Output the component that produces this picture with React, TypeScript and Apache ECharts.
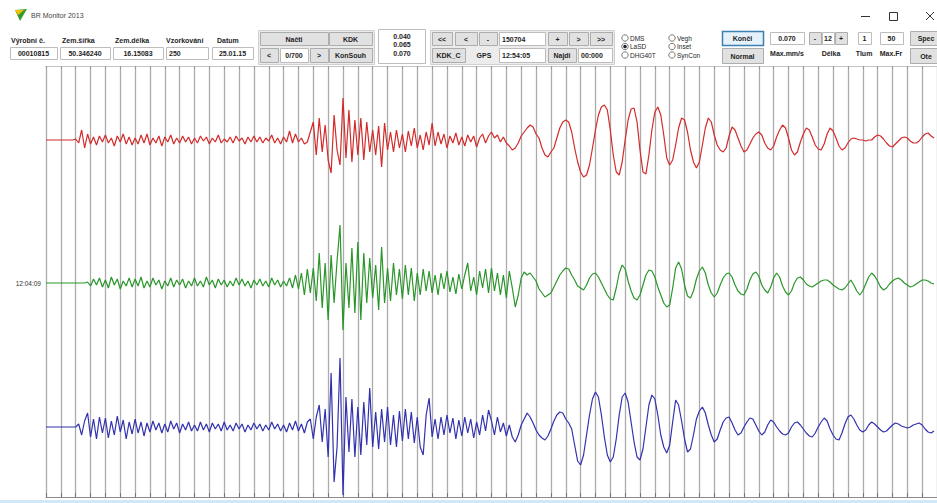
import React, { useEffect, useRef } from 'react';
import * as echarts from 'echarts';

// ---- data ----
const SAMPLE_STEP_S = 2; // seconds between samples
const X_MIN_S = 0;
const X_MAX_S = 600;
const GRID_STEP_S = 10;
const TIME_LABEL = '12:04:09';

const RED_TRACE = [
  0, 0, 0, 0, 0, 0, 0, 0, 0, 0,
  1, -3, 10, -8, 6, -4, 3, -5, 4, -2,
  5, -3, 2, -6, 4, -2, 6, -4, 3, -5,
  2, -4, 5, -3, 6, -5, 2, -3, 4, -6,
  3, -2, 5, -4, 2, -3, 4, -2, 3, -4,
  2, -3, 4, -1, 3, -4, 2, -2, 5, -3,
  1, -2, 3, -3, 4, -1, 2, -4, 3, -2,
  4, -2, 3, -3, 2, -1, 5, -3, 2, -4,
  3, -2, 9, -3, 6, -2, 2, -4, -2, 8,
  18, -15, 22, -12, 15, -20, -33, 25, -10, -25,
  42, -18, 30, -22, 20, -15, 22, -20, 18, -12,
  10, -15, 14, -27, 17, -10, 8, -12, 10, -8,
  6, -12, 9, -6, 12, -8, 5, -10, 8, -5,
  17, -6, 8, -4, 6, -8, 4, -3, 7, -5,
  3, -6, 5, -2, 4, -7, 2, 6, -3, 4,
  8, 2, 5, -2, 3, -3, -6, -10, -8, -3,
  4, 8, 12, 15, 13, 6, 2, -8, -15, -17,
  -12, -8, 2, 12, 18, 20, 18, 8, -8, -22,
  -32, -37, -35, -25, -8, 10, 25, 33, 35, 30,
  10, -15, -32, -35, -22, 0, 20, 31, 32, 18,
  -10, -32, -34, -15, 10, 28, 33, 25, 5, -18,
  -25, -20, -5, 12, 22, 20, 8, -10, -22, -28,
  -22, -5, 12, 22, 18, 5, -5, -10, -12, -8,
  4, 13, 10, 2, -6, -12, -10, -4, 2, 6,
  8, 5, -3, -8, -10, -6, 3, 10, 15, 12,
  2, -10, -15, -12, -2, 6, 12, 10, 3, -5,
  -9, -10, -4, 6, 12, 9, 2, -6, -10, -8,
  -3, 1, 2, 1, 0, 0, -1, 0, 0, 3,
  5, 4, 1, -3, -6, -7, -4, -1, 2, 3,
  2, -1, -3, -3, -1, 3, 6, 7, 4, 2,
];

const GREEN_TRACE = [
  0, 0, 0, 0, 0, 0, 0, 0, 0, 0,
  0, 0, 0, 0, 1, -3, 4, -2, 5, -4,
  3, -5, 6, -2, 4, -6, 2, -3, 5, -4,
  4, -3, 6, -5, 2, -4, 5, -2, 3, -6,
  2, -3, 5, -4, 3, -2, 4, -5, 2, -3,
  5, -3, 2, -4, 6, -2, 3, -5, 4, -2,
  3, -4, 2, -3, 5, -2, 4, -3, 2, -5,
  3, -2, 4, -3, 2, -4, 5, -2, 3, -4,
  2, -3, 5, -5, 8, -6, 10, -12, 14, -10,
  15, -18, 30, -25, 20, -37, 28, -20, 22, 58,
  -47, 20, -25, 35, -30, 41, -37, 30, -20, 25,
  -15, 18, -27, 36, -20, 15, -18, 20, -12, 14,
  -16, 18, -12, 15, -18, 10, -12, 14, -8, 12,
  -10, 8, -12, 10, -6, 12, -9, 6, -11, 9,
  -6, 8, 20, -8, 6, -12, 12, -5, 14, -10,
  15, -8, 10, -12, 8, -15, 12, -5, -24, -12,
  5, 11, 8, 10, 6, 2, -6, -10, -14, -12,
  -10, -4, 2, 8, 12, 15, 14, 8, 3, -3,
  -5, -7, -2, 5, 9, 10, 6, 0, -6, -12,
  -16, -17, -5, 10, 18, 14, 2, -8, -15, -17,
  -12, -2, 8, 13, 12, 6, -4, -12, -20, -24,
  -22, -5, 15, 21, 14, -2, -13, -15, -8, 4,
  12, 16, 10, -2, -10, -14, -10, -2, 5, 9,
  10, 6, -2, -8, -11, -12, -6, 3, 9, 11,
  7, -2, -7, -10, -4, 5, 10, 6, -3, -9,
  -12, -8, 0, 5, 6, 3, -1, -3, -4, -2,
  0, 2, 3, 3, 1, -2, -4, -6, -7, -5,
  -1, 3, -2, -8, -12, -8, -1, 6, 10, 7,
  2, -4, -7, -5, -1, 2, 4, 5, 3, 0,
  -2, -4, -3, -1, 1, 3, 3, 2, 0, -1,
];

const BLUE_TRACE = [
  0, 0, 0, 0, 0, 0, 0, 0, 0, 0,
  0, 3, -8, 6, 14, -10, 8, -12, 10, -6,
  9, -11, 6, -8, 11, -5, 7, -12, 5, -7,
  8, -6, 5, -9, 4, -5, 6, -3, 4, -6,
  3, -5, 6, -2, 4, -6, 3, -3, 5, -4,
  2, -4, 5, -3, 3, -5, 4, -2, 3, -4,
  5, -3, 2, -4, 4, -2, 3, -5, 2, -3,
  4, -2, 3, -4, 2, -3, 5, -2, 3, -4,
  2, -5, 4, -3, 6, -4, 3, -6, 5, 8,
  -12, 10, 22, -15, 18, -30, 54, -55, -20, 69,
  -68, 30, -25, 28, -30, 20, -28, 25, -18, 39,
  -20, 15, -22, 18, -15, 20, -18, 12, -20, 16,
  -14, 18, -12, 15, -16, 10, -20, -28, 12, 29,
  -10, 8, -12, 10, -8, 12, -6, 9, -12, 7,
  -9, 10, -6, 8, -11, 5, -8, 12, -4, 17,
  6, -8, 10, -5, 4, -9, 2, -10, -15, -8,
  2, 8, 14, 10, 4, -3, -8, -11, -13, -9,
  -2, 6, 12, 15, 14, 8, 4, -2, -18, -34,
  -38, -28, -8, 12, 28, 35, 30, 12, -10, -28,
  -35, -30, -12, 12, 30, 34, 25, 5, -15, -30,
  -33, -22, 0, 22, 32, 28, 12, -8, -20, -26,
  -18, 5, 27, 22, 6, -12, -25, -22, -8, 8,
  16, 20, 14, 2, -8, -15, -12, -3, 5, 9,
  10, 4, -3, -8, -6, 0, 5, 9, 8, 2,
  -4, -8, -5, 2, 7, 5, 0, -4, -7, -8,
  -6, 0, 4, 5, 2, -2, -6, -9, -10, -6,
  0, 5, 9, 6, -2, -8, -12, -13, -6, 3,
  10, 12, 8, 2, -3, -5, -3, 2, 5, 3,
  0, -3, -5, -4, -1, 2, 4, 3, 1, 0,
  -1, 0, 2, 3, 4, 2, -2, -5, -6, -4,
];

// ---- toolbar helpers (layout only) ----
const FONT = '"Liberation Sans", Arial, sans-serif';

function txt(x: number, y: number, text: string, o: any = {}) {
  return {
    type: 'text', x, y, silent: true, z: 10,
    style: {
      text, fontSize: o.size ?? 7, fontWeight: o.bold === false ? 'normal' : 'bold',
      fontFamily: FONT, fill: o.color ?? '#1e1e1e',
      align: o.align ?? 'left', verticalAlign: 'middle',
    },
  };
}
function rect(x: number, y: number, w: number, h: number, fill: string, stroke: string, lw = 1) {
  return {
    type: 'rect', silent: true, z: 9,
    shape: { x: x + 0.5, y: y + 0.5, width: w, height: h },
    style: { fill, stroke, lineWidth: lw },
  };
}
function btn(x: number, y: number, w: number, h: number, label: string, o: any = {}) {
  return [
    rect(x, y, w, h, o.fill ?? '#e1e1e1', o.stroke ?? '#adadad', o.lw ?? 1),
    txt(x + w / 2, y + h / 2 + 0.5, label, { align: 'center' }),
  ];
}
function field(x: number, y: number, w: number, h: number, val: string, align = 'center') {
  return [
    rect(x, y, w, h, '#ffffff', '#bcbcbc'),
    txt(align === 'center' ? x + w / 2 : x + 3, y + h / 2 + 0.5, val, { align }),
  ];
}
function line(x1: number, y1: number, x2: number, y2: number, color = '#333', lw = 1) {
  return { type: 'line', silent: true, z: 10, shape: { x1, y1, x2, y2 }, style: { stroke: color, lineWidth: lw } };
}
function radio(x: number, y: number, checked: boolean) {
  const els: any[] = [
    { type: 'circle', silent: true, z: 10, shape: { cx: x, cy: y, r: 3.2 }, style: { fill: '#fff', stroke: '#555', lineWidth: 0.8 } },
  ];
  if (checked) els.push({ type: 'circle', silent: true, z: 11, shape: { cx: x, cy: y, r: 1.8 }, style: { fill: '#222' } });
  return els;
}

function buildGraphic() {
  const g: any[] = [];
  // title bar
  g.push({ type: 'polygon', silent: true, z: 10, shape: { points: [[15, 10], [27, 9], [20, 21]] }, style: { fill: '#3a9a2a' } });
  g.push({ type: 'polygon', silent: true, z: 11, shape: { points: [[15, 10], [24, 10], [18, 15]] }, style: { fill: '#f2c200' } });
  g.push(txt(31, 15, 'BR Monitor 2013', { bold: false, size: 7, color: '#444' }));
  g.push(line(861, 16.5, 870, 16.5, '#333'));
  g.push({ type: 'rect', silent: true, z: 10, shape: { x: 889.5, y: 12.5, width: 8, height: 8 }, style: { fill: 'none', stroke: '#333', lineWidth: 1 } });
  g.push(line(926, 12, 934, 20, '#333'));
  g.push(line(934, 12, 926, 20, '#333'));

  // header fields
  const labels: [number, string][] = [[11, 'Výrobní č.'], [62, 'Zem.šířka'], [115, 'Zem.délka'], [166, 'Vzorkování'], [217, 'Datum']];
  labels.forEach(([x, s]) => g.push(txt(x, 40, s)));
  g.push(...field(10, 47, 47, 12, '00010815'));
  g.push(...field(60, 47, 50, 12, '50.346240'));
  g.push(...field(113, 47, 50, 12, '16.15083'));
  g.push(...field(166, 47, 42, 12, '250', 'left'));
  g.push(...field(212, 47, 41, 12, '25.01.15'));

  // Načti / KDK block
  g.push(rect(258, 30, 116, 34, '#ececec', '#d0d0d0'));
  g.push(...btn(260, 32, 68, 13, 'Načti'));
  g.push(...btn(260, 48, 18, 14, '<'));
  g.push(...field(280, 48, 28, 14, '0/700'));
  g.push(...btn(310, 48, 18, 14, '>'));
  g.push(...btn(329, 32, 43, 13, 'KDK'));
  g.push(...btn(329, 48, 43, 14, 'KonSouh'));

  // three value box
  g.push(rect(378, 29, 47, 34, '#ffffff', '#bcbcbc'));
  g.push(txt(402, 36, '0.040', { align: 'center' }));
  g.push(txt(402, 44, '0.065', { align: 'center' }));
  g.push(txt(402, 53, '0.070', { align: 'center' }));

  // navigation
  g.push(rect(430, 30, 184, 34, '#ececec', '#d0d0d0'));
  g.push(...btn(432, 32, 20, 13, '<<'));
  g.push(...btn(455, 32, 22, 13, '<'));
  g.push(...btn(479, 32, 18, 13, '-'));
  g.push(...field(499, 32, 46, 13, '150704', 'left'));
  g.push(...btn(548, 32, 19, 13, '+'));
  g.push(...btn(569, 32, 19, 13, '>'));
  g.push(...btn(590, 32, 22, 13, '>>'));
  g.push(...btn(432, 48, 33, 14, 'KDK_C'));
  g.push(txt(484, 55, 'GPS', { align: 'center' }));
  g.push(...field(499, 48, 46, 14, '12:54:05', 'left'));
  g.push(...btn(548, 48, 28, 14, 'Najdi'));
  g.push(...field(578, 48, 34, 14, '00:000', 'left'));

  // radio groups
  const r1 = ['DMS', 'LaSD', 'DHG40T'];
  const r2 = ['Vegh', 'Inset', 'SynCon'];
  const ry = [38, 46.5, 55];
  r1.forEach((s, i) => { g.push(...radio(625, ry[i], i === 1)); g.push(txt(630, ry[i], s, { bold: false, size: 6.5 })); });
  r2.forEach((s, i) => { g.push(...radio(672, ry[i], false)); g.push(txt(677, ry[i], s, { bold: false, size: 6.5 })); });

  // right controls
  g.push(...btn(722, 31, 41, 14, 'Konči', { fill: '#e5f1fb', stroke: '#3c7fb1', lw: 1.5 }));
  g.push(...btn(722, 48, 41, 15, 'Normal'));
  g.push(...field(770, 32, 34, 12, '0.070', 'center'));
  g.push(txt(787, 53, 'Max.mm/s', { align: 'center' }));
  g.push(...btn(809, 32, 12, 12, '-'));
  g.push(...field(822, 32, 12, 12, '12'));
  g.push(...btn(835, 32, 12, 12, '+'));
  g.push(txt(831, 53, 'Délka', { align: 'center' }));
  g.push(...field(858, 32, 13, 12, '1'));
  g.push(txt(864, 53, 'Tlum', { align: 'center' }));
  g.push(...field(880, 32, 23, 12, '50'));
  g.push(txt(891, 53, 'Max.Fr', { align: 'center' }));
  g.push(...btn(910, 31, 32, 14, 'Spec'));
  g.push(...btn(910, 48, 32, 15, 'Ote'));

  // bottom window border
  g.push({ type: 'rect', silent: true, z: 9, shape: { x: 0, y: 500, width: 937, height: 3 }, style: { fill: '#d2e8f7' } });
  return g;
}

const PLOT_LEFT = 46;
const PLOT_WIDTH = 896;
const TRACE_CENTERS = [140, 283, 427];
const TRACE_HALF = 70;

export default function App() {
  const ref = useRef<HTMLDivElement>(null);
  useEffect(() => {
    if (!ref.current) return;
    const chart = echarts.init(ref.current, undefined, { renderer: 'svg' });
    const traces = [
      { data: RED_TRACE, color: '#d42a2a' },
      { data: GREEN_TRACE, color: '#2a962a' },
      { data: BLUE_TRACE, color: '#3232b0' },
    ];
    const grids: any[] = [
      { left: PLOT_LEFT, width: PLOT_WIDTH, top: 66, height: 431 },
      ...TRACE_CENTERS.map((c) => ({ left: PLOT_LEFT, width: PLOT_WIDTH, top: c - TRACE_HALF, height: TRACE_HALF * 2 })),
    ];
    const xAxes: any[] = [
      {
        gridIndex: 0, type: 'value', min: X_MIN_S, max: X_MAX_S, interval: GRID_STEP_S, position: 'bottom',
        axisLine: { show: true, lineStyle: { color: '#8c8c8c', width: 1 } },
        axisTick: { show: true, inside: true, length: 4, lineStyle: { color: '#777' } },
        axisLabel: { show: false },
        splitLine: { show: true, lineStyle: { color: '#ababab', width: 1.3 } },
      },
      {
        gridIndex: 0, type: 'value', min: X_MIN_S, max: X_MAX_S, interval: GRID_STEP_S, position: 'top',
        axisLine: { show: true, lineStyle: { color: '#c4c4c4', width: 1 } },
        axisTick: { show: true, inside: true, length: 3, lineStyle: { color: '#999' } },
        axisLabel: { show: false }, splitLine: { show: false },
      },
      ...TRACE_CENTERS.map((_, k) => ({
        gridIndex: k + 1, type: 'value', min: X_MIN_S, max: X_MAX_S, show: false,
      })),
    ];
    const yAxes: any[] = [
      { gridIndex: 0, type: 'value', min: 0, max: 1, show: false },
      ...TRACE_CENTERS.map((_, k) => ({
        gridIndex: k + 1, type: 'value', min: -TRACE_HALF, max: TRACE_HALF, interval: TRACE_HALF,
        show: k === 1,
        axisLine: { show: false }, axisTick: { show: false }, splitLine: { show: false },
        axisLabel: {
          show: k === 1, margin: 5, fontSize: 6.5, color: '#333', fontFamily: FONT,
          formatter: (v: number) => (v === 0 ? TIME_LABEL : ''),
        },
      })),
    ];
    const series = traces.map((tr, k) => ({
      type: 'line', xAxisIndex: k + 2, yAxisIndex: k + 1,
      data: tr.data.map((v, i) => [i * SAMPLE_STEP_S, v]),
      showSymbol: false, symbol: 'none', clip: false, silent: true,
      lineStyle: { color: tr.color, width: 1.2 },
      z: 5,
    }));
    chart.setOption({
      animation: false,
      backgroundColor: '#ffffff',
      grid: grids,
      xAxis: xAxes,
      yAxis: yAxes,
      series,
      graphic: buildGraphic(),
    });
    return () => chart.dispose();
  }, []);
  return <div ref={ref} style={{ position: 'absolute', left: 0, top: 0, width: 937, height: 503 }} />;
}
